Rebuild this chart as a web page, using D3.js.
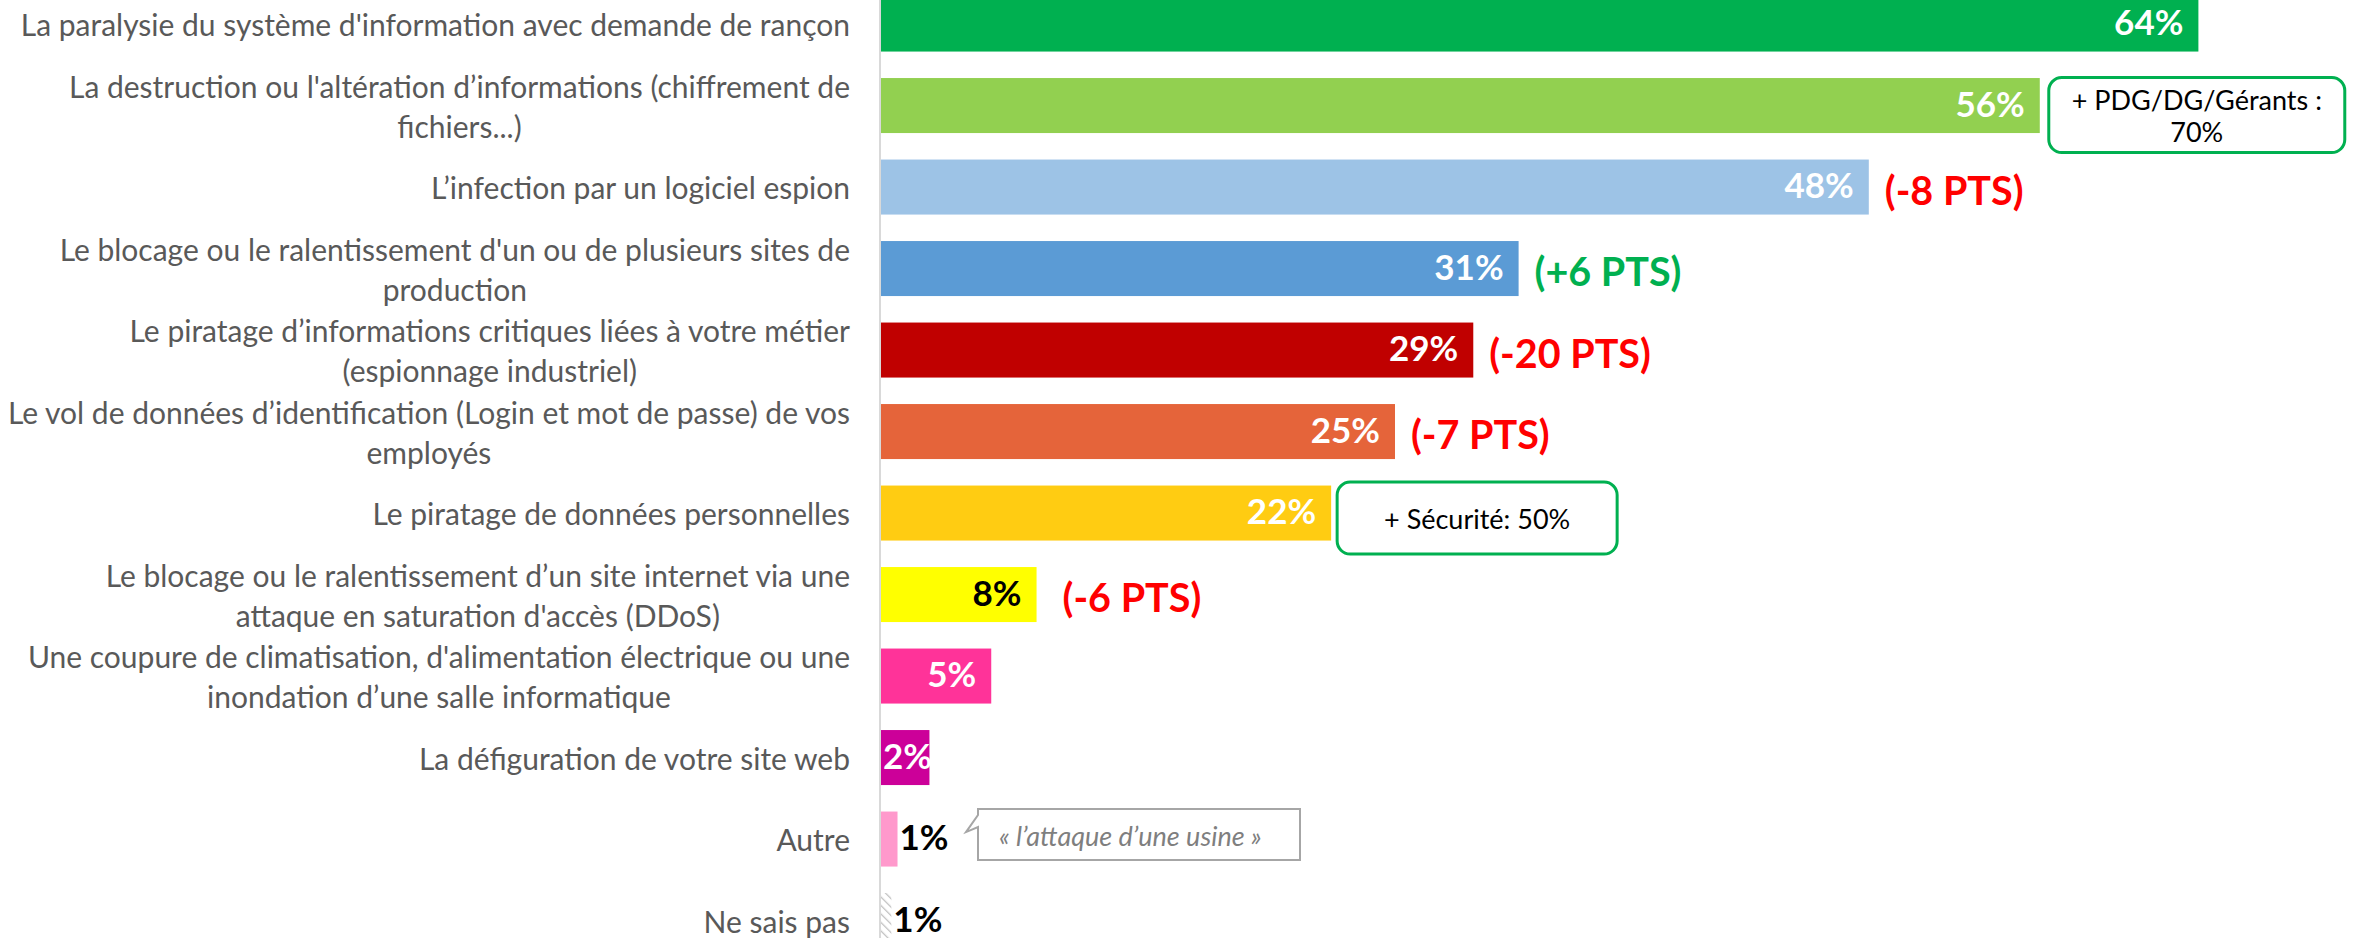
<!DOCTYPE html>
<html>
<head>
<meta charset="utf-8">
<script src="https://cdn.jsdelivr.net/npm/d3@7"></script>
<style>
  html, body { margin: 0; padding: 0; background: #fff; }
  svg { display: block; }
</style>
</head>
<body>
<svg id="chart" width="2354" height="938"></svg>
<script>
// ---------- DATA ----------
const categories = [
  "La paralysie du système d'information avec demande de rançon",
  "La destruction ou l'altération d’informations (chiffrement de\nfichiers...)",
  "L’infection par un logiciel espion",
  "Le blocage ou le ralentissement d'un ou de plusieurs sites de\nproduction",
  "Le piratage d’informations critiques liées à votre métier\n(espionnage industriel)",
  "Le vol de données d’identification (Login et mot de passe) de vos\nemployés",
  "Le piratage de données personnelles",
  "Le blocage ou le ralentissement d’un site internet via une\nattaque en saturation d'accès (DDoS)",
  "Une coupure de climatisation, d'alimentation électrique ou une\ninondation d’une salle informatique",
  "La défiguration de votre site web",
  "Autre",
  "Ne sais pas"
];
const values = [64.0, 56.3, 48.0, 31.0, 28.8, 25.0, 21.9, 7.6, 5.4, 2.4, 0.85, 0.55];
const valueLabels = ["64%", "56%", "48%", "31%", "29%", "25%", "22%", "8%", "5%", "2%", "1%", "1%"];
const barColors = ["#00B050", "#92D050", "#9DC3E6", "#5B9BD5", "#C00000", "#E5643A",
                   "#FFCC12", "#FFFF00", "#FF3399", "#CC0099", "#FF99CC", "hatch"];
const labelColors = ["#fff", "#fff", "#fff", "#fff", "#fff", "#fff", "#fff", "#000", "#fff", "#fff", "#000", "#000"];
const labelOutside = [false, false, false, false, false, false, false, false, false, false, true, true];
const deltas = ["", "", "(-8 PTS)", "(+6 PTS)", "(-20 PTS)", "(-7 PTS)", "", "(-6 PTS)", "", "", "", ""];
const deltaColors = ["", "", "#FF0000", "#00B050", "#FF0000", "#FF0000", "", "#FF0000", "", "", "", ""];
const callout1 = ["+ PDG/DG/Gérants :", "70%"];
const callout2 = ["+ Sécurité: 50%"];
const quote = "« l’attaque d’une usine »";

// ---------- LAYOUT ----------
const W = 2354, H = 938;
const svg = d3.select("#chart");
const idx = d3.range(categories.length);

const x = d3.scaleLinear().domain([0, 100]).range([880, 880 + 2060]);
const y = d3.scaleBand().domain(idx).range([-16.7, 961.3]).paddingInner(0.325).paddingOuter(0.1625);
const bw = y.bandwidth();
const cy = i => y(i) + bw / 2;

// hatch pattern
const defs = svg.append("defs");
const pat = defs.append("pattern").attr("id", "hatch").attr("patternUnits", "userSpaceOnUse")
  .attr("width", 6).attr("height", 6).attr("patternTransform", "rotate(-45)");
pat.append("rect").attr("width", 6).attr("height", 6).attr("fill", "#fff");
pat.append("line").attr("x1", 0).attr("y1", 0).attr("x2", 0).attr("y2", 6)
  .attr("stroke", "#BFBFBF").attr("stroke-width", 2.5);

// bars
svg.append("g").selectAll("rect").data(idx).join("rect")
  .attr("x", x(0))
  .attr("y", i => y(i))
  .attr("width", i => x(values[i]) - x(0))
  .attr("height", bw)
  .attr("fill", i => barColors[i] === "hatch" ? "url(#hatch)" : barColors[i]);

// axis line
svg.append("line").attr("x1", x(0)).attr("x2", x(0)).attr("y1", 0).attr("y2", H)
  .attr("stroke", "#D9D9D9").attr("stroke-width", 2);

// category labels (multi-line, lines centered on each other, block right aligned)
const catFont = 30;
const lineH = 40;
const catG = svg.append("g")
  .attr("font-family", "Lato, 'Open Sans', sans-serif")
  .attr("font-size", catFont).attr("fill", "#595959");
idx.forEach(i => {
  const lines = categories[i].split("\n");
  const g = catG.append("g");
  const texts = lines.map((ln, k) => g.append("text")
    .attr("y", cy(i) + (k - (lines.length - 1) / 2) * lineH)
    .attr("dominant-baseline", "central")
    .attr("text-anchor", "middle")
    .text(ln));
  const maxW = d3.max(texts, t => t.node().getComputedTextLength());
  const center = x(0) - 30 - maxW / 2;
  texts.forEach(t => t.attr("x", center));
});

// value labels
const valG = svg.append("g")
  .attr("font-family", "Lato, 'Open Sans', sans-serif")
  .attr("font-weight", "bold").attr("font-size", 35);
idx.forEach(i => {
  const t = valG.append("text")
    .attr("y", cy(i) - 3)
    .attr("dominant-baseline", "central")
    .attr("fill", labelColors[i])
    .text(valueLabels[i]);
  if (labelOutside[i]) {
    t.attr("x", x(values[i]) + 2).attr("text-anchor", "start");
  } else {
    const w = t.node().getComputedTextLength();
    const xr = Math.max(x(values[i]) - 15, x(0) + w + 3);
    t.attr("x", xr).attr("text-anchor", "end");
  }
});

// delta labels
const dG = svg.append("g")
  .attr("font-family", "Lato, 'Open Sans', sans-serif")
  .attr("font-weight", "bold").attr("font-size", 39.5);
idx.filter(i => deltas[i]).forEach(i => {
  dG.append("text")
    .attr("x", x(values[i]) + (values[i] < 10 ? 26 : 16))
    .attr("y", cy(i) + 2)
    .attr("dominant-baseline", "central")
    .attr("fill", deltaColors[i])
    .text(deltas[i]);
});

// callout 1 (row 1)
{
  const bx = x(values[1]) + 9, by = cy(1) - 28, w = 296, h = 75;
  svg.append("rect").attr("x", bx).attr("y", by).attr("width", w).attr("height", h)
    .attr("rx", 13).attr("fill", "#fff").attr("stroke", "#00B050").attr("stroke-width", 3);
  const g = svg.append("g").attr("font-family", "Lato, 'Open Sans', sans-serif")
    .attr("font-size", 27).attr("fill", "#000").attr("text-anchor", "middle");
  callout1.forEach((ln, k) => g.append("text")
    .attr("x", bx + w / 2).attr("y", by + h / 2 + (k - 0.5) * 32)
    .attr("dominant-baseline", "central").text(ln));
}

// callout 2 (row 6)
{
  const bx = x(values[6]) + 6, by = cy(6) - 31, w = 280, h = 72;
  svg.append("rect").attr("x", bx).attr("y", by).attr("width", w).attr("height", h)
    .attr("rx", 13).attr("fill", "#fff").attr("stroke", "#00B050").attr("stroke-width", 3);
  svg.append("text").attr("font-family", "Lato, 'Open Sans', sans-serif")
    .attr("font-size", 27).attr("fill", "#000").attr("text-anchor", "middle")
    .attr("x", bx + w / 2).attr("y", by + h / 2)
    .attr("dominant-baseline", "central").text(callout2[0]);
}

// speech callout (row 10)
{
  const bx = 978, by = cy(10) - 30, w = 322, h = 51;
  const p = d3.path();
  p.moveTo(bx, by);
  p.lineTo(bx + w, by);
  p.lineTo(bx + w, by + h);
  p.lineTo(bx, by + h);
  p.lineTo(bx, by + 18);
  p.lineTo(bx - 12, by + 23);
  p.lineTo(bx, by + 6);
  p.closePath();
  svg.append("path").attr("d", p.toString()).attr("fill", "#fff")
    .attr("stroke", "#A6A6A6").attr("stroke-width", 2);
  svg.append("text").attr("font-family", "Lato, 'Open Sans', sans-serif")
    .attr("font-size", 27).attr("font-style", "italic").attr("fill", "#7F7F7F")
    .attr("x", bx + 21).attr("y", by + h / 2 + 1)
    .attr("dominant-baseline", "central").text(quote);
}
</script>
</body>
</html>
